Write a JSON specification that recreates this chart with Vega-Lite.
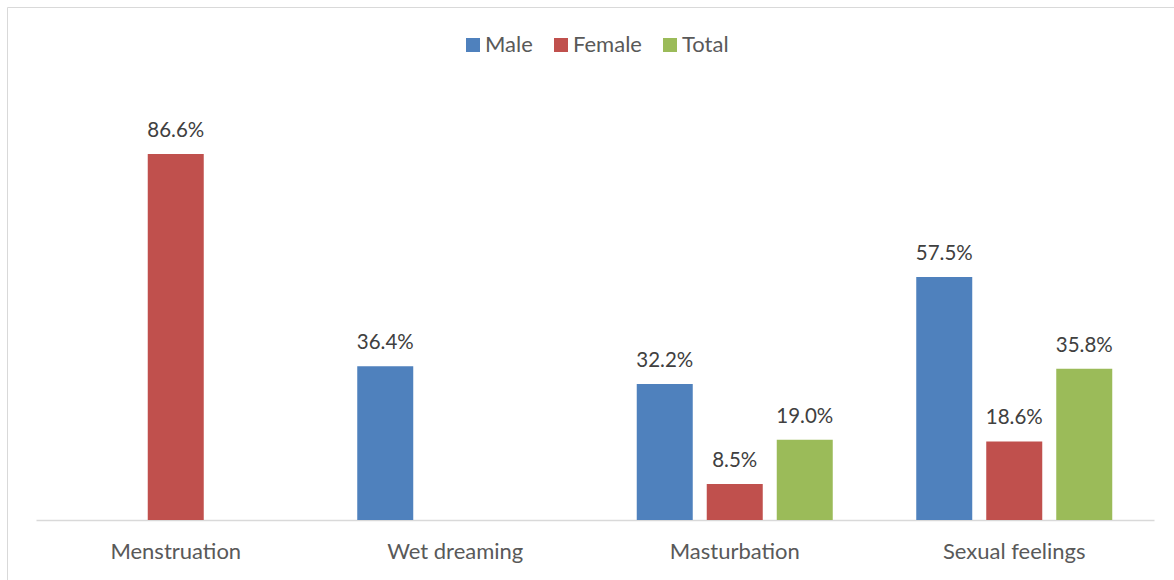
{
  "$schema": "https://vega.github.io/schema/vega-lite/v6.json",
  "autosize": {"type": "none"},
  "padding": {"left": 7, "top": 7, "right": -10, "bottom": -10},
  "width": 1177,
  "height": 583,
  "background": "white",
  "config": {
    "view": {"stroke": "#d9d9d9", "strokeWidth": 1},
    "font": "Lato"
  },
  "data": {
    "values": [
      {"category": "Menstruation", "group": "Female", "value": 0.866},
      {"category": "Wet dreaming", "group": "Male", "value": 0.364},
      {"category": "Masturbation", "group": "Male", "value": 0.322},
      {"category": "Masturbation", "group": "Female", "value": 0.085},
      {"category": "Masturbation", "group": "Total", "value": 0.19},
      {"category": "Sexual feelings", "group": "Male", "value": 0.575},
      {"category": "Sexual feelings", "group": "Female", "value": 0.186},
      {"category": "Sexual feelings", "group": "Total", "value": 0.358}
    ]
  },
  "encoding": {
    "x": {
      "field": "category",
      "type": "nominal",
      "sort": ["Menstruation", "Wet dreaming", "Masturbation", "Sexual feelings"],
      "scale": {"range": [29, 1147], "paddingInner": 0, "paddingOuter": 0},
      "axis": {
        "title": null,
        "orient": "bottom",
        "offset": -70,
        "domainColor": "#d9d9d9",
        "domainWidth": 1.5,
        "ticks": false,
        "grid": false,
        "labelAngle": 0,
        "labelFont": "Lato",
        "labelFontSize": 22,
        "labelColor": "#595959",
        "labelPadding": 21
      }
    },
    "xOffset": {
      "field": "group",
      "type": "nominal",
      "sort": ["Male", "Female", "Total"],
      "scale": {"domain": ["Male", "Female", "Total"], "paddingInner": 0.2, "paddingOuter": 0.5964}
    },
    "y": {
      "field": "value",
      "type": "quantitative",
      "scale": {"domain": [0, 1], "range": [513, 90.4], "nice": false, "zero": true},
      "axis": null
    }
  },
  "layer": [
    {
      "mark": {"type": "bar"},
      "encoding": {
        "color": {
          "field": "group",
          "type": "nominal",
          "scale": {"domain": ["Male", "Female", "Total"], "range": ["#4f81bd", "#c0504d", "#9bbb59"]},
          "legend": {
            "title": null,
            "orient": "none",
            "direction": "horizontal",
            "legendX": 455,
            "legendY": 27,
            "padding": 0,
            "symbolType": "square",
            "symbolSize": 196,
            "symbolStrokeWidth": 0,
            "symbolOpacity": 1,
            "labelFont": "Lato",
            "labelFontSize": 22,
            "labelColor": "#595959",
            "labelOffset": 1,
            "columnPadding": 17
          }
        }
      }
    },
    {
      "mark": {"type": "text", "dy": -17, "baseline": "alphabetic", "font": "Lato", "fontSize": 20.5, "color": "#404040"},
      "encoding": {
        "text": {"field": "value", "type": "quantitative", "format": ".1%"}
      }
    }
  ]
}
